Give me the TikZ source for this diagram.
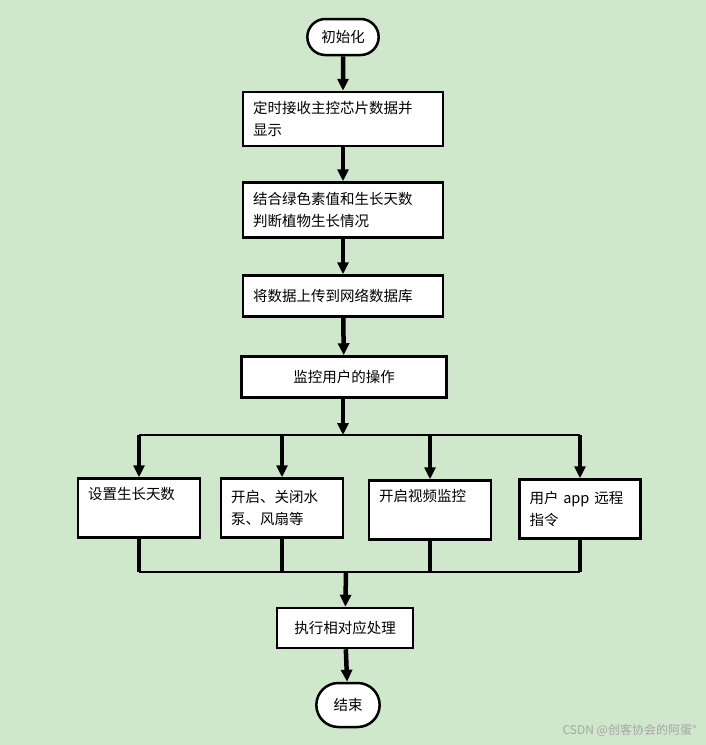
\documentclass[tikz,border=0pt]{standalone}
\usepackage{fontspec}
\setmainfont{Noto Sans CJK SC}
\usetikzlibrary{arrows.meta,shapes.misc}
\definecolor{bgcol}{HTML}{CFE7CB}
\tikzset{
  box/.style={draw,line width=2.5pt,fill=white,align=left,inner xsep=10pt,inner ysep=4pt,font=\fontsize{14.5}{22}\selectfont},
  term/.style={draw,line width=2.5pt,fill=white,rounded rectangle,font=\fontsize{14.5}{18}\selectfont},
  flow/.style={line width=4.5pt,-{Triangle[width=11pt,length=12pt]}},
  wire/.style={line width=2pt},
  stub/.style={line width=4.5pt}
}
\begin{document}
\begin{tikzpicture}[x=1pt,y=-1pt]
\fill[bgcol] (0,0) rectangle (706,745);
\useasboundingbox (0,0) rectangle (706,745);
  \node[term,minimum width=78pt,minimum height=36pt] (start) at (343,37) {初始化};
  \node[box,text width=180pt,minimum height=54pt] (recv) at (343,119) {定时接收主控芯片数据并\\显示};
  \node[box,text width=180pt,minimum height=55pt] (judge) at (343,210) {结合绿色素值和生长天数\\判断植物生长情况};
  \node[box,text width=180pt,minimum height=41pt] (upload) at (343,296) {将数据上传到网络数据库};
  \node[box,minimum width=205pt,minimum height=41pt,align=center] (watch) at (344,377) {监控用户的操作};
  \coordinate (split) at (343,435);
  \node[box,text width=102pt,minimum height=59pt] (days) at (139,508) {设置生长天数\\\strut};
  \node[box,text width=102pt,minimum height=59pt] (pump) at (282,508) {开启、关闭水\\泵、风扇等};
  \node[box,text width=102pt,minimum height=59pt] (video) at (430,510) {开启视频监控\\\strut};
  \node[box,text width=101pt,minimum height=59pt] (app) at (580,509) {用户 app 远程\\指令};
  \coordinate (join) at (346,572);
  \node[box,minimum width=136pt,minimum height=40pt,align=center] (exec) at (345,628) {执行相对应处理};
  \node[term,minimum width=70pt,minimum height=44pt] (stop) at (348,705) {结束};
  \node[text=white!65!black,font=\fontsize{12}{14}\selectfont,anchor=east] (mark) at (700,730) {CSDN @创客协会的阿蛋°};
  % main line
  \draw[flow] (start) -- (recv);
  \draw[flow] (recv) -- (judge);
  \draw[flow] (judge) -- (upload);
  \draw[flow] (upload) -- (watch);
  \draw[flow] (watch.south -| split) -- (split);
  % branches
  \draw[wire] (days.north |- split) -- (app.north |- split);
  \foreach \b in {days,pump,video,app}{
    \draw[flow] (\b.north |- split) -- (\b.north);
    \draw[stub] (\b.south) -- (\b.south |- join);
  }
  \draw[wire] (days.south |- join) -- (app.south |- join);
  \draw[flow] (join) -- (exec);
  \draw[flow] (exec) -- (stop);
\end{tikzpicture}
\end{document}
